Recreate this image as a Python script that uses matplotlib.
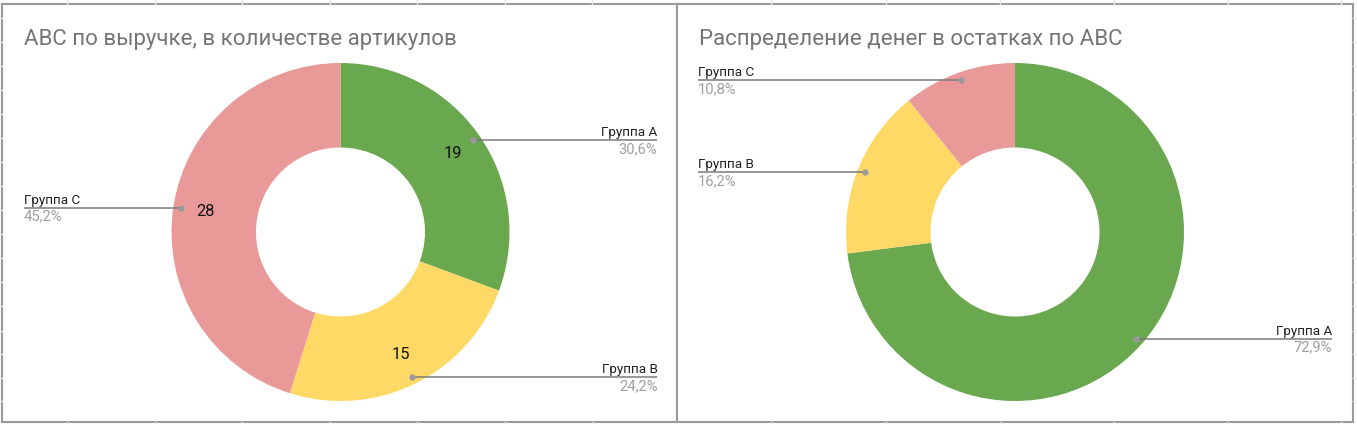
import matplotlib
matplotlib.use("Agg")
import numpy as np
import matplotlib.pyplot as plt
from matplotlib.lines import Line2D

plt.rcParams['font.family'] = ['Roboto', 'DejaVu Sans']

# Данные
groups = ["Группа А", "Группа B", "Группа C"]
colors = ["#6aa84f", "#ffd966", "#ea9999"]

title_left = "ABC по выручке, в количестве артикулов"
sku_counts = [19, 15, 28]

title_right = "Распределение денег в остатках по ABC"
money_share = [72.9, 16.2, 10.8]   # уже в процентах

W, H = 1357, 424
R = 169.0          # радиус бублика в пикселях
fig = plt.figure(figsize=(W / 100, H / 100), dpi=100)
fig.patch.set_facecolor("white")

# фон таблицы (бледные линии сетки по краям)
grid_c = "#e3e3e3"
for x in [67, 155, 242, 330, 417, 505, 592, 771, 886, 1000, 1114, 1228, 1341]:
    fig.add_artist(Line2D([x / W, x / W], [1 - 4 / H, 1], color=grid_c, lw=1))
    fig.add_artist(Line2D([x / W, x / W], [0, 2 / H], color=grid_c, lw=1))
for y in [18, 42, 66, 90, 114, 138, 162, 186, 210, 234, 258, 282, 306, 331, 354, 378, 401]:
    fig.add_artist(Line2D([1353 / W, 1], [1 - y / H, 1 - y / H], color=grid_c, lw=1))
    fig.add_artist(Line2D([0, 2 / W], [1 - y / H, 1 - y / H], color=grid_c, lw=1))


def fmt_pct(p):
    return f"{p:.1f}%".replace(".", ",")


def donut(x0, x1, cx, values, pcts, title, show_values):
    y0, y1, cy = 4, 422, 232
    ax = fig.add_axes([x0 / W, 1 - y1 / H, (x1 - x0) / W, (y1 - y0) / H])

    wedges, _ = ax.pie(values, colors=colors, startangle=90, counterclock=False,
                       radius=1, wedgeprops=dict(width=0.5, edgecolor="none"))
    ax.set_xlim((x0 - cx) / R, (x1 - cx) / R)
    ax.set_ylim((cy - y1) / R, (cy - y0) / R)
    ax.set_aspect("auto")
    ax.set_frame_on(True)
    ax.set_xticks([])
    ax.set_yticks([])
    for s in ax.spines.values():
        s.set_visible(True)
        s.set_color("#9a9a9a")
        s.set_linewidth(1.5)

    px = 1 / R
    end = 1.875
    for w, v, p, name in zip(wedges, values, pcts, groups):
        mid = np.deg2rad((w.theta1 + w.theta2) / 2)
        dx, dy = 0.955 * np.cos(mid), 0.955 * np.sin(mid)
        if show_values:
            ax.text(0.81 * np.cos(mid), 0.81 * np.sin(mid), str(v), ha="center",
                    va="center", fontsize=11.8, color="#111111")
        xe = end if dx > 0 else -end
        ha = "right" if dx > 0 else "left"
        ax.plot([dx, xe], [dy, dy], color="#7a7a7a", lw=1.1, solid_capstyle="butt")
        ax.plot([dx], [dy], "o", color="#9a9a9a", ms=3.5)
        ax.text(xe, dy + 1 * px, name, ha=ha, va="bottom", fontsize=9.7, color="#222222")
        ax.text(xe, dy - 2 * px, fmt_pct(p), ha=ha, va="top", fontsize=10.6, color="#9e9e9e")

    fig.text((x0 + 22) / W, 1 - 45 / H, title, ha="left", va="baseline",
             fontsize=16.0, color="#757575")


total = sum(sku_counts)
donut(2, 677, 340.5, sku_counts, [c / total * 100 for c in sku_counts], title_left, True)
donut(677, 1353, 1015, money_share, money_share, title_right, False)

fig.savefig("out.png", dpi=100, facecolor="white")
